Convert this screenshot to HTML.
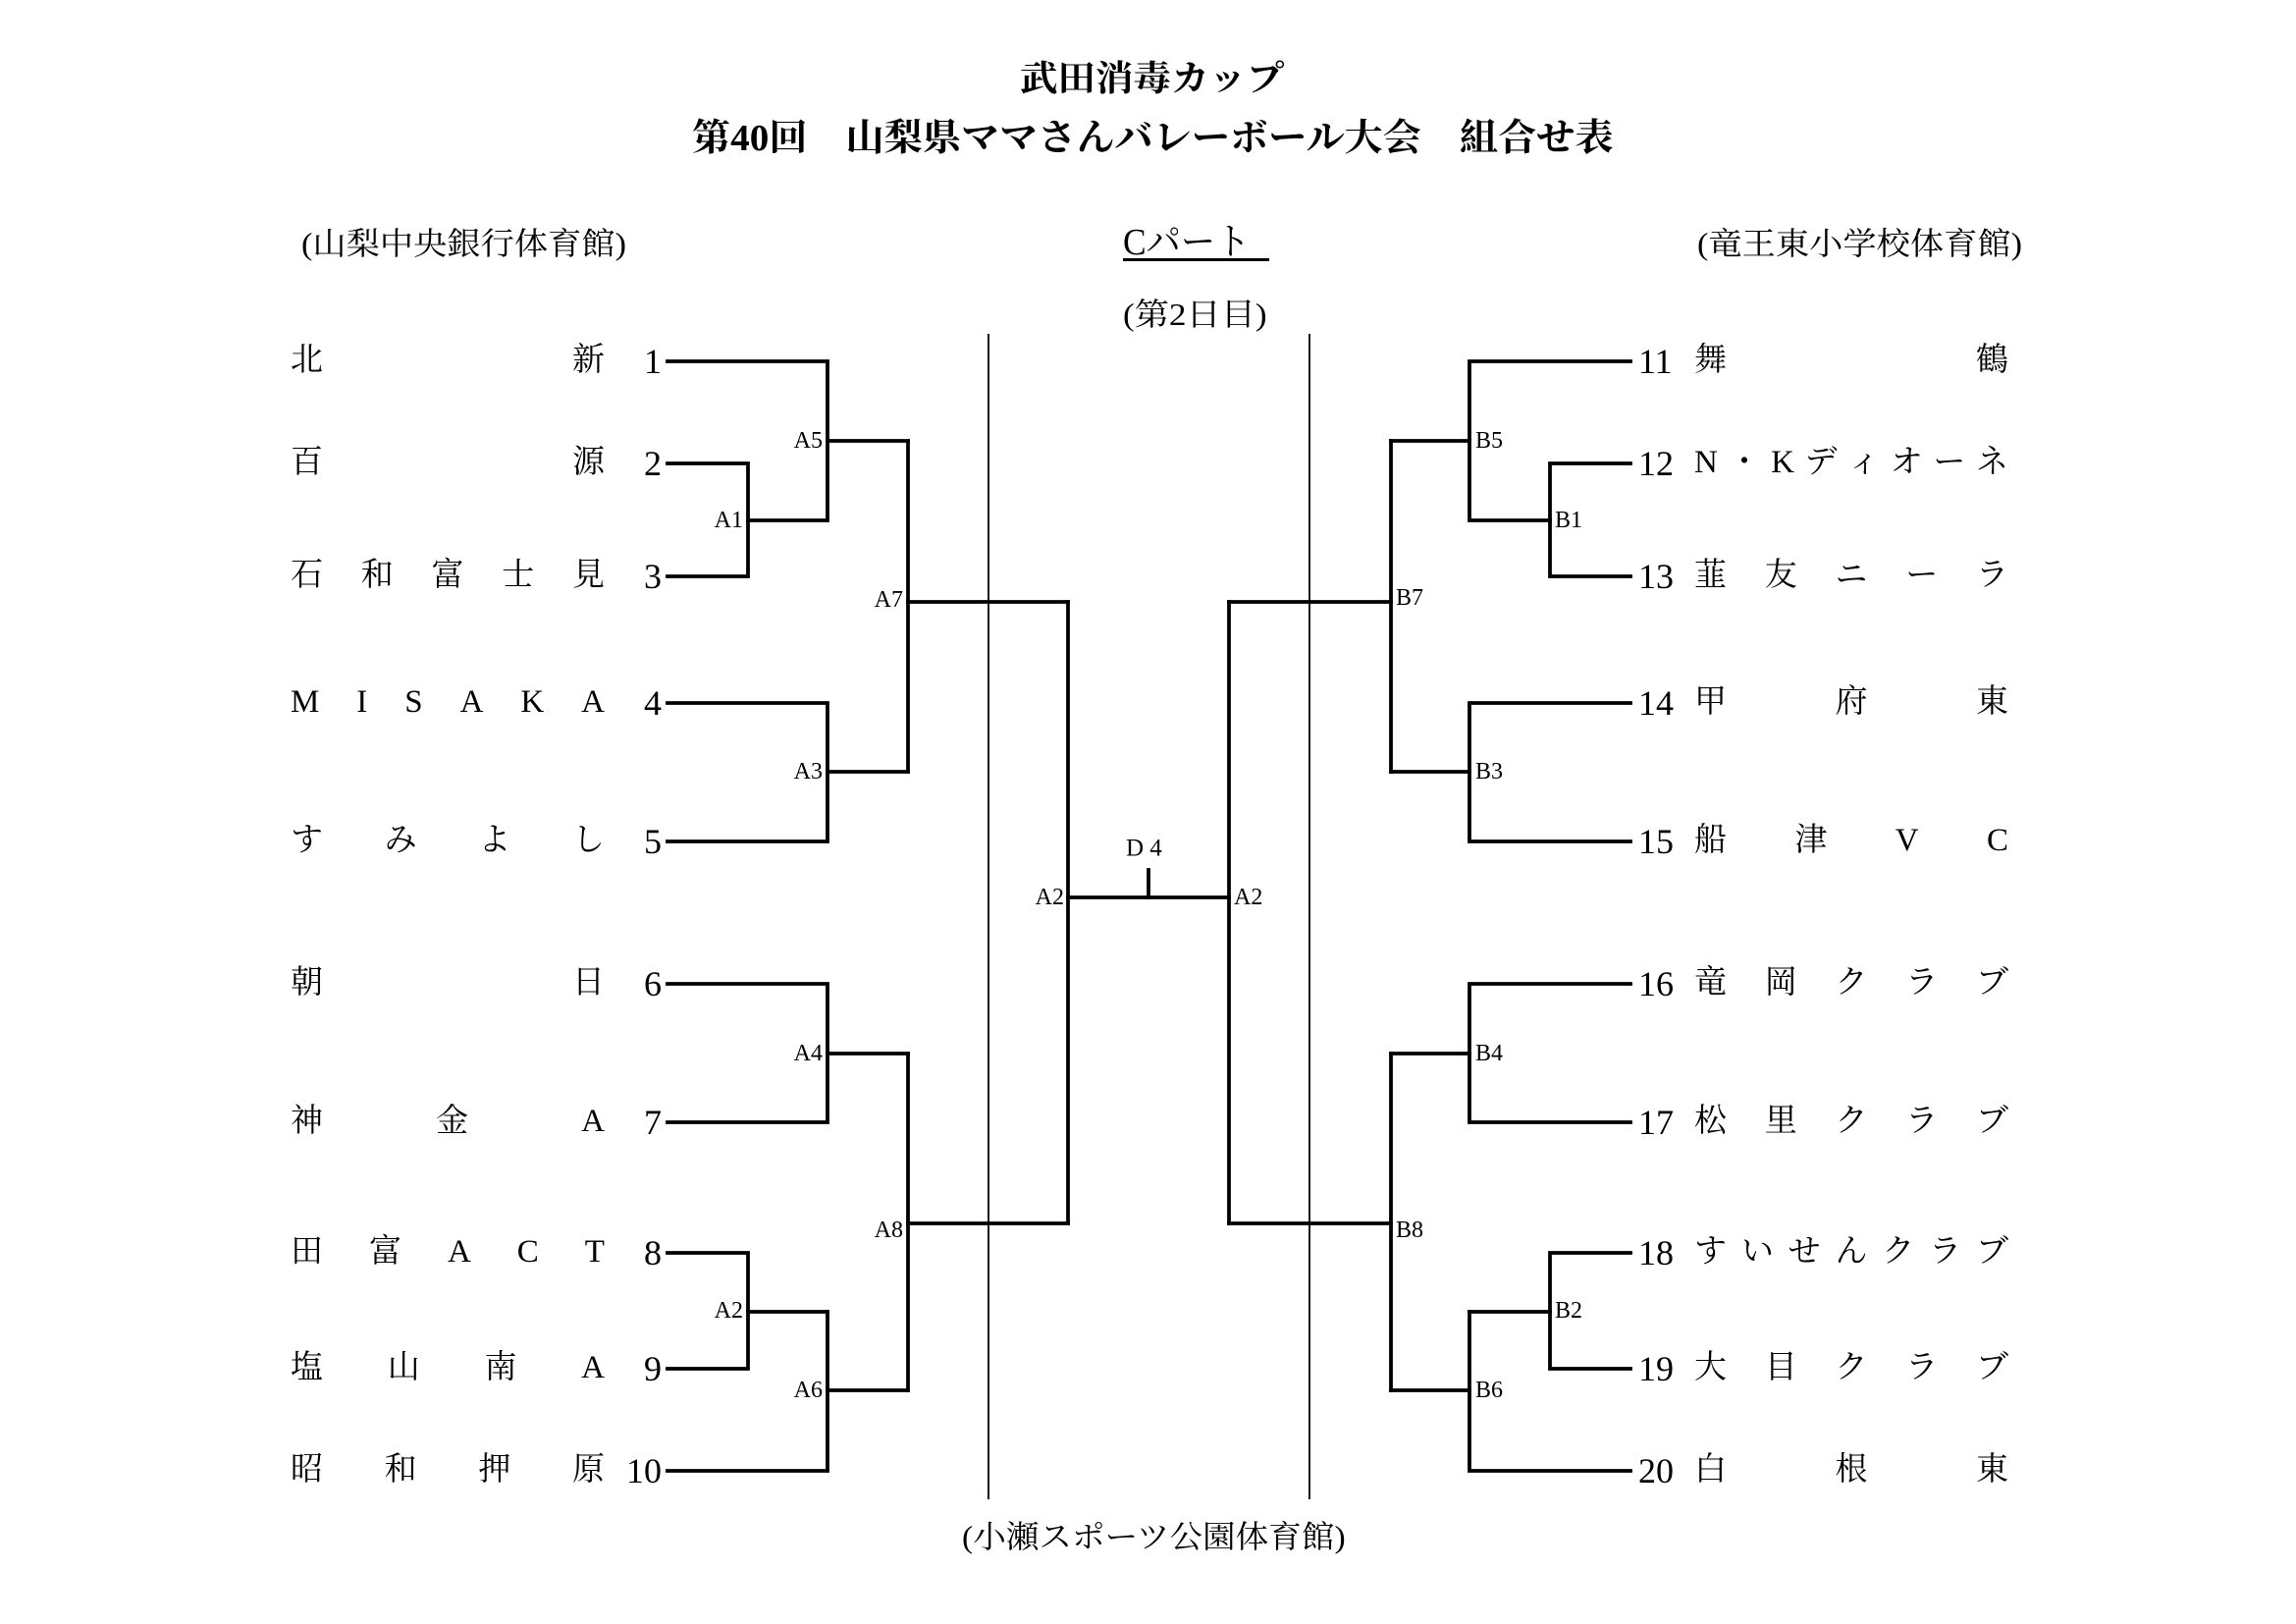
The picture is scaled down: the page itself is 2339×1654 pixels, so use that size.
<!DOCTYPE html>
<html><head><meta charset="utf-8">
<style>
html,body{margin:0;padding:0;background:#fff;}
#c{position:relative;width:2339px;height:1654px;overflow:hidden;background:#fff;color:#000;font-family:"Liberation Serif","Noto Serif CJK SC",serif;}
.t{position:absolute;white-space:nowrap;line-height:1;}
.t span{display:inline-block;transform-origin:left;}
.nm{position:absolute;display:flex;justify-content:space-between;width:320px;font-size:33px;line-height:1;height:33px;}
.num{position:absolute;font-size:36px;line-height:1;height:36px;}
</style></head><body><div id="c">
<svg width="2339" height="1654" style="position:absolute;left:0;top:0" xmlns="http://www.w3.org/2000/svg">
<g stroke="#000" fill="none" stroke-width="1.8">
<line x1="1007" y1="340" x2="1007" y2="1527"/>
<line x1="1334" y1="340" x2="1334" y2="1527"/>
</g>
<g stroke="#000" fill="none" stroke-width="3.8" stroke-linecap="square">
<polyline points="680,368 843,368 843,530 762,530"/>
<polyline points="680,472 762,472 762,587 680,587"/>
<line x1="843" y1="449" x2="925" y2="449"/>
<polyline points="680,716 843,716 843,857 680,857"/>
<line x1="843" y1="786" x2="925" y2="786"/>
<line x1="925" y1="449" x2="925" y2="786"/>
<line x1="925" y1="613" x2="1088" y2="613"/>
<polyline points="680,1002 843,1002 843,1143 680,1143"/>
<line x1="843" y1="1073" x2="925" y2="1073"/>
<polyline points="680,1276 762,1276 762,1394 680,1394"/>
<line x1="762" y1="1336" x2="843" y2="1336"/>
<polyline points="843,1336 843,1498 680,1498"/>
<line x1="843" y1="1416" x2="925" y2="1416"/>
<line x1="925" y1="1073" x2="925" y2="1416"/>
<line x1="925" y1="1246" x2="1088" y2="1246"/>
<line x1="1088" y1="613" x2="1088" y2="1246"/>
<line x1="1088" y1="914" x2="1252" y2="914"/>
<line x1="1170" y1="886" x2="1170" y2="914"/>
<line x1="1252" y1="613" x2="1252" y2="1246"/>
<line x1="1252" y1="613" x2="1417" y2="613"/>
<line x1="1252" y1="1246" x2="1417" y2="1246"/>
<line x1="1417" y1="449" x2="1417" y2="786"/>
<line x1="1417" y1="449" x2="1497" y2="449"/>
<line x1="1417" y1="786" x2="1497" y2="786"/>
<polyline points="1661,368 1497,368 1497,530 1579,530"/>
<polyline points="1661,472 1579,472 1579,587 1661,587"/>
<polyline points="1661,716 1497,716 1497,857 1661,857"/>
<line x1="1417" y1="1073" x2="1417" y2="1416"/>
<line x1="1417" y1="1073" x2="1497" y2="1073"/>
<line x1="1417" y1="1416" x2="1497" y2="1416"/>
<polyline points="1661,1002 1497,1002 1497,1143 1661,1143"/>
<polyline points="1661,1276 1579,1276 1579,1394 1661,1394"/>
<line x1="1579" y1="1336" x2="1497" y2="1336"/>
<polyline points="1497,1336 1497,1498 1661,1498"/>
</g>
<g font-family="Liberation Serif" font-size="24" fill="#000" dominant-baseline="central">
<text x="838" y="449" text-anchor="end">A5</text>
<text x="757" y="530" text-anchor="end">A1</text>
<text x="920" y="611" text-anchor="end">A7</text>
<text x="838" y="786" text-anchor="end">A3</text>
<text x="1084" y="914" text-anchor="end">A2</text>
<text x="838" y="1073" text-anchor="end">A4</text>
<text x="920" y="1253" text-anchor="end">A8</text>
<text x="757" y="1335" text-anchor="end">A2</text>
<text x="838" y="1416" text-anchor="end">A6</text>
<text x="1257" y="914">A2</text>
<text x="1503" y="449">B5</text>
<text x="1584" y="530">B1</text>
<text x="1422" y="609">B7</text>
<text x="1503" y="786">B3</text>
<text x="1503" y="1073">B4</text>
<text x="1422" y="1253">B8</text>
<text x="1584" y="1335">B2</text>
<text x="1503" y="1416">B6</text>
<text x="1147" y="864" font-size="25">D 4</text>
</g>
</svg>

<div class="t" style="left:1039px;top:62px;font-size:36px;font-weight:bold;"><span style="transform:scaleX(1.07)">武田消毒カップ</span></div>
<div class="t" style="left:705px;top:122px;font-size:38px;font-weight:bold;"><span style="transform:scaleX(1.03)">第40回　山梨県ママさんバレーボール大会　組合せ表</span></div>
<div class="t" style="left:307px;top:232px;font-size:32px;"><span style="transform:scaleX(1.07)">(山梨中央銀行体育館)</span></div>
<div class="t" style="left:1729px;top:232px;font-size:32px;"><span style="transform:scaleX(1.07)">(竜王東小学校体育館)</span></div>
<div class="t" style="left:1144px;top:228px;font-size:38px;"><span style="transform:scaleX(0.93)">Cパート</span></div>
<div style="position:absolute;left:1144px;top:263px;width:149px;height:3px;background:#000"></div>
<div class="t" style="left:1144px;top:304px;font-size:32px;"><span style="transform:scaleX(1.1)">(第2日目)</span></div>
<div class="t" style="left:980px;top:1549px;font-size:32px;"><span style="transform:scaleX(1.05)">(小瀬スポーツ公園体育館)</span></div>

<div class="nm" style="left:296px;top:351px"><span>北</span><span>新</span></div>
<div class="nm" style="left:296px;top:455px"><span>百</span><span>源</span></div>
<div class="nm" style="left:296px;top:570px"><span>石</span><span>和</span><span>富</span><span>士</span><span>見</span></div>
<div class="nm" style="left:296px;top:699px"><span>M</span><span>I</span><span>S</span><span>A</span><span>K</span><span>A</span></div>
<div class="nm" style="left:296px;top:840px"><span>す</span><span>み</span><span>よ</span><span>し</span></div>
<div class="nm" style="left:296px;top:985px"><span>朝</span><span>日</span></div>
<div class="nm" style="left:296px;top:1126px"><span>神</span><span>金</span><span>A</span></div>
<div class="nm" style="left:296px;top:1259px"><span>田</span><span>富</span><span>A</span><span>C</span><span>T</span></div>
<div class="nm" style="left:296px;top:1377px"><span>塩</span><span>山</span><span>南</span><span>A</span></div>
<div class="nm" style="left:296px;top:1481px"><span>昭</span><span>和</span><span>押</span><span>原</span></div>
<div class="num" style="left:600px;width:74px;text-align:right;top:350px">1</div>
<div class="num" style="left:600px;width:74px;text-align:right;top:454px">2</div>
<div class="num" style="left:600px;width:74px;text-align:right;top:569px">3</div>
<div class="num" style="left:600px;width:74px;text-align:right;top:698px">4</div>
<div class="num" style="left:600px;width:74px;text-align:right;top:839px">5</div>
<div class="num" style="left:600px;width:74px;text-align:right;top:984px">6</div>
<div class="num" style="left:600px;width:74px;text-align:right;top:1125px">7</div>
<div class="num" style="left:600px;width:74px;text-align:right;top:1258px">8</div>
<div class="num" style="left:600px;width:74px;text-align:right;top:1376px">9</div>
<div class="num" style="left:600px;width:74px;text-align:right;top:1480px">10</div>
<div class="num" style="left:1669px;top:350px">11</div>
<div class="num" style="left:1669px;top:454px">12</div>
<div class="num" style="left:1669px;top:569px">13</div>
<div class="num" style="left:1669px;top:698px">14</div>
<div class="num" style="left:1669px;top:839px">15</div>
<div class="num" style="left:1669px;top:984px">16</div>
<div class="num" style="left:1669px;top:1125px">17</div>
<div class="num" style="left:1669px;top:1258px">18</div>
<div class="num" style="left:1669px;top:1376px">19</div>
<div class="num" style="left:1669px;top:1480px">20</div>
<div class="nm" style="left:1726px;top:351px"><span>舞</span><span>鶴</span></div>
<div class="nm" style="left:1726px;top:455px"><span>N</span><span>・</span><span>K</span><span>デ</span><span>ィ</span><span>オ</span><span>ー</span><span>ネ</span></div>
<div class="nm" style="left:1726px;top:570px"><span>韮</span><span>友</span><span>ニ</span><span>ー</span><span>ラ</span></div>
<div class="nm" style="left:1726px;top:699px"><span>甲</span><span>府</span><span>東</span></div>
<div class="nm" style="left:1726px;top:840px"><span>船</span><span>津</span><span>V</span><span>C</span></div>
<div class="nm" style="left:1726px;top:985px"><span>竜</span><span>岡</span><span>ク</span><span>ラ</span><span>ブ</span></div>
<div class="nm" style="left:1726px;top:1126px"><span>松</span><span>里</span><span>ク</span><span>ラ</span><span>ブ</span></div>
<div class="nm" style="left:1726px;top:1259px"><span>す</span><span>い</span><span>せ</span><span>ん</span><span>ク</span><span>ラ</span><span>ブ</span></div>
<div class="nm" style="left:1726px;top:1377px"><span>大</span><span>目</span><span>ク</span><span>ラ</span><span>ブ</span></div>
<div class="nm" style="left:1726px;top:1481px"><span>白</span><span>根</span><span>東</span></div>
</div></body></html>
